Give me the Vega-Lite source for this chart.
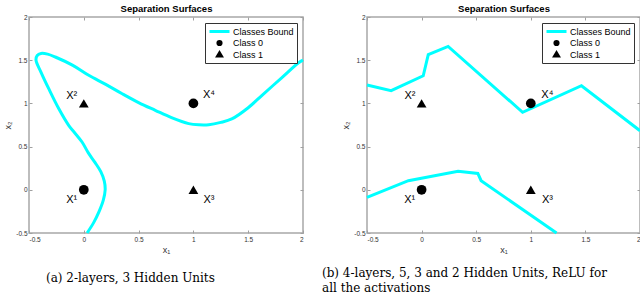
{
  "$schema": "https://vega.github.io/schema/vega-lite/v6.json",
  "autosize": {"type": "pad"},
  "padding": {"left": 3, "top": 2, "right": 0, "bottom": 0},
  "background": "white",
  "spacing": 64,
  "bounds": "flush",
  "config": {
    "view": {"stroke": "#a8a8a8", "strokeWidth": 1.5},
    "axis": {
      "domain": false, "grid": false,
      "tickSize": -3, "tickColor": "#a0a0a0", "tickWidth": 1,
      "labelFont": "Liberation Sans", "labelFontSize": 6.5, "labelColor": "#333333",
      "titleFont": "Liberation Sans", "titleFontSize": 9, "titleFontWeight": "normal", "titleColor": "#333333"
    },
    "legend": {
      "orient": "top-right", "offset": 6, "title": null,
      "strokeColor": "#333333", "fillColor": "white", "padding": 3,
      "labelFont": "Liberation Sans", "labelFontSize": 9, "labelColor": "black",
      "symbolStrokeWidth": 3, "symbolOpacity": 1, "clipHeight": 11, "rowPadding": 0.5, "labelOffset": 2
    },
    "title": {"font": "DejaVu Serif", "fontSize": 12, "fontWeight": "normal", "color": "black"}
  },
  "datasets": {
    "curveA": [
      {"i": 0, "x": 0.03, "y": -0.5, "series": "Classes Bound", "seg": 1},
      {"i": 1, "x": 0.09, "y": -0.38, "series": "Classes Bound", "seg": 1},
      {"i": 2, "x": 0.14, "y": -0.25, "series": "Classes Bound", "seg": 1},
      {"i": 3, "x": 0.178, "y": -0.12, "series": "Classes Bound", "seg": 1},
      {"i": 4, "x": 0.195, "y": 0.0, "series": "Classes Bound", "seg": 1},
      {"i": 5, "x": 0.187, "y": 0.1, "series": "Classes Bound", "seg": 1},
      {"i": 6, "x": 0.155, "y": 0.21, "series": "Classes Bound", "seg": 1},
      {"i": 7, "x": 0.1, "y": 0.32, "series": "Classes Bound", "seg": 1},
      {"i": 8, "x": 0.04, "y": 0.43, "series": "Classes Bound", "seg": 1},
      {"i": 9, "x": -0.016, "y": 0.553, "series": "Classes Bound", "seg": 1},
      {"i": 10, "x": -0.089, "y": 0.669, "series": "Classes Bound", "seg": 1},
      {"i": 11, "x": -0.138, "y": 0.746, "series": "Classes Bound", "seg": 1},
      {"i": 12, "x": -0.229, "y": 0.94, "series": "Classes Bound", "seg": 1},
      {"i": 13, "x": -0.32, "y": 1.17, "series": "Classes Bound", "seg": 1},
      {"i": 14, "x": -0.39, "y": 1.36, "series": "Classes Bound", "seg": 1},
      {"i": 15, "x": -0.436, "y": 1.5, "series": "Classes Bound", "seg": 1},
      {"i": 16, "x": -0.425, "y": 1.555, "series": "Classes Bound", "seg": 1},
      {"i": 17, "x": -0.39, "y": 1.578, "series": "Classes Bound", "seg": 1},
      {"i": 18, "x": -0.33, "y": 1.57, "series": "Classes Bound", "seg": 1},
      {"i": 19, "x": -0.26, "y": 1.537, "series": "Classes Bound", "seg": 1},
      {"i": 20, "x": -0.1, "y": 1.44, "series": "Classes Bound", "seg": 1},
      {"i": 21, "x": 0.045, "y": 1.325, "series": "Classes Bound", "seg": 1},
      {"i": 22, "x": 0.2, "y": 1.22, "series": "Classes Bound", "seg": 1},
      {"i": 23, "x": 0.35, "y": 1.112, "series": "Classes Bound", "seg": 1},
      {"i": 24, "x": 0.5, "y": 1.01, "series": "Classes Bound", "seg": 1},
      {"i": 25, "x": 0.652, "y": 0.92, "series": "Classes Bound", "seg": 1},
      {"i": 26, "x": 0.8, "y": 0.835, "series": "Classes Bound", "seg": 1},
      {"i": 27, "x": 0.957, "y": 0.766, "series": "Classes Bound", "seg": 1},
      {"i": 28, "x": 1.05, "y": 0.752, "series": "Classes Bound", "seg": 1},
      {"i": 29, "x": 1.14, "y": 0.753, "series": "Classes Bound", "seg": 1},
      {"i": 30, "x": 1.25, "y": 0.78, "series": "Classes Bound", "seg": 1},
      {"i": 31, "x": 1.35, "y": 0.82, "series": "Classes Bound", "seg": 1},
      {"i": 32, "x": 1.5, "y": 0.95, "series": "Classes Bound", "seg": 1},
      {"i": 33, "x": 1.626, "y": 1.094, "series": "Classes Bound", "seg": 1},
      {"i": 34, "x": 1.8, "y": 1.29, "series": "Classes Bound", "seg": 1},
      {"i": 35, "x": 1.96, "y": 1.47, "series": "Classes Bound", "seg": 1},
      {"i": 36, "x": 2.0, "y": 1.5, "series": "Classes Bound", "seg": 1}
    ],
    "curveB": [
      {"i": 0, "x": -0.5, "y": 1.213, "series": "Classes Bound", "seg": 1},
      {"i": 1, "x": -0.279, "y": 1.147, "series": "Classes Bound", "seg": 1},
      {"i": 2, "x": 0.015, "y": 1.32, "series": "Classes Bound", "seg": 1},
      {"i": 3, "x": 0.061, "y": 1.564, "series": "Classes Bound", "seg": 1},
      {"i": 4, "x": 0.243, "y": 1.66, "series": "Classes Bound", "seg": 1},
      {"i": 5, "x": 0.925, "y": 0.897, "series": "Classes Bound", "seg": 1},
      {"i": 6, "x": 1.464, "y": 1.205, "series": "Classes Bound", "seg": 1},
      {"i": 7, "x": 2.0, "y": 0.684, "series": "Classes Bound", "seg": 1},
      {"i": 0, "x": -0.5, "y": -0.087, "series": "Classes Bound", "seg": 2},
      {"i": 1, "x": -0.121, "y": 0.105, "series": "Classes Bound", "seg": 2},
      {"i": 2, "x": 0.334, "y": 0.214, "series": "Classes Bound", "seg": 2},
      {"i": 3, "x": 0.515, "y": 0.19, "series": "Classes Bound", "seg": 2},
      {"i": 4, "x": 0.545, "y": 0.105, "series": "Classes Bound", "seg": 2},
      {"i": 5, "x": 1.236, "y": -0.5, "series": "Classes Bound", "seg": 2}
    ],
    "points": [
      {"x": 0, "y": 0, "series": "Class 0"},
      {"x": 1, "y": 1, "series": "Class 0"},
      {"x": 0, "y": 1, "series": "Class 1"},
      {"x": 1, "y": 0, "series": "Class 1"}
    ],
    "labelsA": [
      {"x": -0.11, "y": -0.118, "name": "X¹"},
      {"x": -0.11, "y": 1.09, "name": "X²"},
      {"x": 1.142, "y": -0.118, "name": "X³"},
      {"x": 1.142, "y": 1.094, "name": "X⁴"}
    ],
    "labelsB": [
      {"x": -0.109, "y": -0.114, "name": "X¹"},
      {"x": -0.106, "y": 1.089, "name": "X²"},
      {"x": 1.152, "y": -0.114, "name": "X³"},
      {"x": 1.152, "y": 1.1, "name": "X⁴"}
    ]
  },
  "hconcat": [
    {
      "width": 274, "height": 216,
      "title": {"text": "(a) 2-layers, 3 Hidden Units", "orient": "bottom", "anchor": "start", "frame": "group", "dx": 17, "offset": 18},
      "resolve": {"axis": {"x": "independent", "y": "independent"}},
      "layer": [
        {
          "data": {"name": "curveA"},
          "mark": {"type": "line", "strokeWidth": 3, "interpolate": "catmull-rom"},
          "encoding": {
            "x": {"field": "x", "type": "quantitative", "scale": {"domain": [-0.5, 2], "nice": false, "zero": false},
                  "axis": {"orient": "bottom", "title": "x₁", "values": [-0.5, 0, 0.5, 1, 1.5, 2], "labelExpr": "datum.value + ''", "labelPadding": 6, "titlePadding": 3}},
            "y": {"field": "y", "type": "quantitative", "scale": {"domain": [-0.5, 2], "nice": false, "zero": false},
                  "axis": {"orient": "left", "title": "x₂", "values": [-0.5, 0, 0.5, 1, 1.5, 2], "labelExpr": "datum.value + ''", "labelPadding": 5, "titlePadding": 3}},
            "order": {"field": "i", "type": "quantitative"},
            "detail": {"field": "seg", "type": "nominal"},
            "color": {"field": "series", "type": "nominal",
                      "scale": {"domain": ["Classes Bound", "Class 0", "Class 1"], "range": ["#00FFFF", "black", "black"]}}
          }
        },
        {
          "data": {"name": "points"},
          "mark": {"type": "point", "filled": true, "size": 95, "opacity": 1},
          "encoding": {
            "x": {"field": "x", "type": "quantitative", "axis": null},
            "y": {"field": "y", "type": "quantitative", "axis": null},
            "color": {"field": "series", "type": "nominal",
                      "scale": {"domain": ["Classes Bound", "Class 0", "Class 1"], "range": ["#00FFFF", "black", "black"]}},
            "shape": {"field": "series", "type": "nominal",
                      "scale": {"domain": ["Classes Bound", "Class 0", "Class 1"], "range": ["stroke", "circle", "triangle-up"]}}
          }
        },
        {
          "data": {"name": "points"},
          "mark": {"type": "point", "filled": true, "opacity": 0},
          "encoding": {
            "x": {"field": "x", "type": "quantitative", "axis": null},
            "y": {"field": "y", "type": "quantitative", "axis": null},
            "size": {"field": "series", "type": "nominal",
                     "scale": {"type": "ordinal", "domain": ["Classes Bound", "Class 0", "Class 1"], "range": [400, 10, 14]}}
          }
        },
        {
          "data": {"name": "labelsA"},
          "mark": {"type": "text", "font": "Liberation Sans", "fontSize": 11, "color": "black"},
          "encoding": {
            "x": {"field": "x", "type": "quantitative",
                  "axis": {"orient": "top", "labels": false, "title": "Separation Surfaces", "titleFontWeight": "bold", "titleFontSize": 9.5, "titleColor": "black", "titlePadding": 3, "values": [-0.5, 0, 0.5, 1, 1.5, 2]}},
            "y": {"field": "y", "type": "quantitative",
                  "axis": {"orient": "right", "labels": false, "title": null, "values": [-0.5, 0, 0.5, 1, 1.5, 2]}},
            "text": {"field": "name"}
          }
        }
      ]
    },
    {
      "width": 273, "height": 216,
      "title": {"text": ["(b) 4-layers, 5, 3 and 2 Hidden Units, ReLU for", "all the activations"], "orient": "bottom", "anchor": "start", "frame": "group", "dx": -45, "offset": 13, "lineHeight": 15},
      "resolve": {"axis": {"x": "independent", "y": "independent"}},
      "layer": [
        {
          "data": {"name": "curveB"},
          "mark": {"type": "line", "strokeWidth": 3, "interpolate": "linear"},
          "encoding": {
            "x": {"field": "x", "type": "quantitative", "scale": {"domain": [-0.5, 2], "nice": false, "zero": false},
                  "axis": {"orient": "bottom", "title": "x₁", "values": [-0.5, 0, 0.5, 1, 1.5, 2], "labelExpr": "datum.value + ''", "labelPadding": 6, "titlePadding": 3}},
            "y": {"field": "y", "type": "quantitative", "scale": {"domain": [-0.5, 2], "nice": false, "zero": false},
                  "axis": {"orient": "left", "title": "x₂", "values": [-0.5, 0, 0.5, 1, 1.5, 2], "labelExpr": "datum.value + ''", "labelPadding": 5, "titlePadding": 3}},
            "order": {"field": "i", "type": "quantitative"},
            "detail": {"field": "seg", "type": "nominal"},
            "color": {"field": "series", "type": "nominal",
                      "scale": {"domain": ["Classes Bound", "Class 0", "Class 1"], "range": ["#00FFFF", "black", "black"]}}
          }
        },
        {
          "data": {"name": "points"},
          "mark": {"type": "point", "filled": true, "size": 95, "opacity": 1},
          "encoding": {
            "x": {"field": "x", "type": "quantitative", "axis": null},
            "y": {"field": "y", "type": "quantitative", "axis": null},
            "color": {"field": "series", "type": "nominal",
                      "scale": {"domain": ["Classes Bound", "Class 0", "Class 1"], "range": ["#00FFFF", "black", "black"]}},
            "shape": {"field": "series", "type": "nominal",
                      "scale": {"domain": ["Classes Bound", "Class 0", "Class 1"], "range": ["stroke", "circle", "triangle-up"]}}
          }
        },
        {
          "data": {"name": "points"},
          "mark": {"type": "point", "filled": true, "opacity": 0},
          "encoding": {
            "x": {"field": "x", "type": "quantitative", "axis": null},
            "y": {"field": "y", "type": "quantitative", "axis": null},
            "size": {"field": "series", "type": "nominal",
                     "scale": {"type": "ordinal", "domain": ["Classes Bound", "Class 0", "Class 1"], "range": [400, 10, 14]}}
          }
        },
        {
          "data": {"name": "labelsB"},
          "mark": {"type": "text", "font": "Liberation Sans", "fontSize": 11, "color": "black"},
          "encoding": {
            "x": {"field": "x", "type": "quantitative",
                  "axis": {"orient": "top", "labels": false, "title": "Separation Surfaces", "titleFontWeight": "bold", "titleFontSize": 9.5, "titleColor": "black", "titlePadding": 3, "values": [-0.5, 0, 0.5, 1, 1.5, 2]}},
            "y": {"field": "y", "type": "quantitative",
                  "axis": {"orient": "right", "labels": false, "title": null, "values": [-0.5, 0, 0.5, 1, 1.5, 2]}},
            "text": {"field": "name"}
          }
        }
      ]
    }
  ],
  "resolve": {"legend": {"color": "independent", "shape": "independent", "size": "independent"}, "scale": {"color": "independent", "shape": "independent", "size": "independent", "x": "independent", "y": "independent"}}
}
